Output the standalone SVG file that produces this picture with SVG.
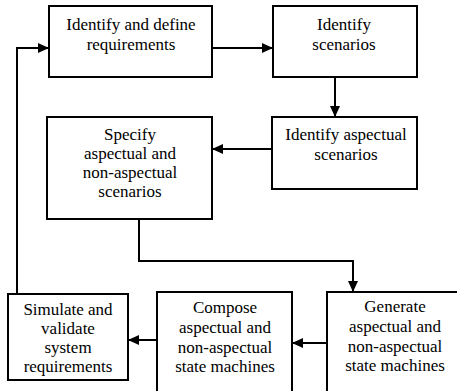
<svg xmlns="http://www.w3.org/2000/svg" width="457" height="391" viewBox="0 0 457 391">
<style>
.box{fill:#fff;stroke:#000;stroke-width:2}
.lbl{font-family:'Liberation Serif','DejaVu Serif','Times New Roman',serif;font-size:17px;fill:#000;text-anchor:middle}
.con{fill:none;stroke:#000;stroke-width:2}
</style>
<defs>
<marker id="ah" markerUnits="userSpaceOnUse" markerWidth="11" markerHeight="10" refX="10" refY="5" orient="auto">
<path d="M0,0 L11,5 L0,10 z" fill="#000"/>
</marker>
</defs>
<rect width="457" height="391" fill="#fff"/>
<g id="connectors">
<path class="con" d="M212,48 H272" marker-end="url(#ah)"/>
<path class="con" d="M335,77 V116" marker-end="url(#ah)"/>
<path class="con" d="M272,149 H213" marker-end="url(#ah)"/>
<path class="con" d="M139,219 V261 H353 V291" marker-end="url(#ah)"/>
<path class="con" d="M327,343 H293" marker-end="url(#ah)"/>
<path class="con" d="M157,340 H129" marker-end="url(#ah)"/>
<path class="con" d="M17,294 V48 H48" marker-end="url(#ah)"/>
</g>
<g id="n1">
<rect class="box" x="49" y="6" width="163" height="71"/>
<text class="lbl" x="131" y="30">Identify and define</text>
<text class="lbl" x="131" y="50">requirements</text>
</g>
<g id="n2">
<rect class="box" x="273" y="6" width="144" height="71"/>
<text class="lbl" x="344" y="30">Identify</text>
<text class="lbl" x="344" y="50">scenarios</text>
</g>
<g id="n3">
<rect class="box" x="272" y="117" width="145" height="72"/>
<text class="lbl" x="346" y="140">Identify aspectual</text>
<text class="lbl" x="346" y="160">scenarios</text>
</g>
<g id="n4">
<rect class="box" x="47" y="117" width="165" height="102"/>
<text class="lbl" x="130" y="140">Specify</text>
<text class="lbl" x="130" y="159">aspectual and</text>
<text class="lbl" x="130" y="178">non-aspectual</text>
<text class="lbl" x="130" y="197">scenarios</text>
</g>
<g id="n5">
<rect class="box" x="327" y="292" width="150" height="110"/>
<text class="lbl" x="395" y="312">Generate</text>
<text class="lbl" x="395" y="332">aspectual and</text>
<text class="lbl" x="395" y="352">non-aspectual</text>
<text class="lbl" x="395" y="371">state machines</text>
</g>
<g id="n6">
<rect class="box" x="157" y="292" width="135" height="110"/>
<text class="lbl" x="225" y="313">Compose</text>
<text class="lbl" x="225" y="333">aspectual and</text>
<text class="lbl" x="225" y="353">non-aspectual</text>
<text class="lbl" x="225" y="372">state machines</text>
</g>
<g id="n7">
<rect class="box" x="8" y="294" width="120" height="86"/>
<text class="lbl" x="68" y="315">Simulate and</text>
<text class="lbl" x="68" y="334">validate</text>
<text class="lbl" x="68" y="353">system</text>
<text class="lbl" x="68" y="372">requirements</text>
</g>
</svg>
